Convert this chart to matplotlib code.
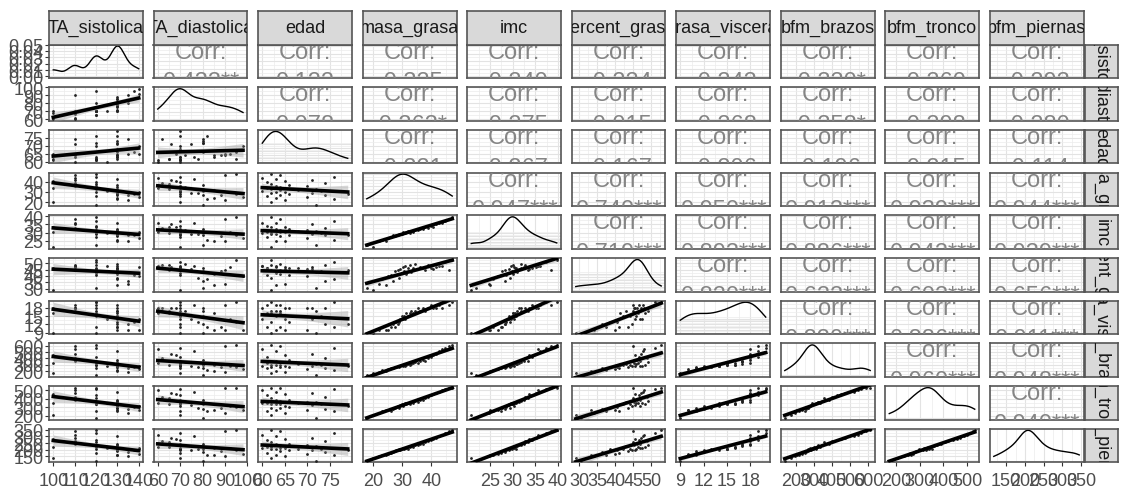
import numpy as np
import matplotlib.pyplot as plt

plt.rcParams['font.family'] = ['Liberation Sans', 'DejaVu Sans']

names = ['TA_sistolica', 'TA_diastolica', 'edad', 'masa_grasa', 'imc',
         'percent_grasa', 'grasa_visceral', 'bfm_brazos', 'bfm_tronco', 'bfm_piernas']

# valores estimados de la figura (36 sujetos)
ta_sistolica = [120, 100, 135, 130, 130, 140, 120, 135, 130, 138, 130, 130, 130, 120, 140, 130, 125, 130,
                130, 120, 130, 100, 130, 120, 110, 130, 120, 110, 120, 100, 110, 130, 110, 120, 110, 120]
ta_diastolica = [80, 70, 90, 82, 85, 98, 70, 80, 88, 95, 70, 78, 75, 70, 92, 80, 70, 85,
                 70, 65, 80, 60, 72, 70, 70, 80, 65, 62, 70, 68, 66, 76, 60, 70, 90, 95]
edad = [72, 62, 65, 76, 63, 70, 61, 74, 64, 66, 79, 62, 71, 63, 65, 73, 60, 64,
        68, 62, 72, 61, 64, 70, 63, 66, 62, 74, 61, 65, 71, 63, 60, 76, 64, 62]
masa_grasa = [17.7, 20.0, 21.8, 23.1, 24.3, 25.2, 26.0, 26.7, 27.3, 27.9, 28.4, 28.9, 29.3, 29.7, 30.1, 30.5, 30.9, 31.4,
              31.9, 32.5, 33.1, 33.8, 34.5, 35.3, 36.1, 37.0, 37.9, 38.8, 39.7, 40.6, 41.6, 42.6, 43.7, 44.8, 46.0, 47.2]
imc = [22.0, 20.9, 24.8, 25.6, 25.0, 26.8, 27.4, 28.4, 27.6, 28.6, 28.3, 29.4, 29.1, 29.3, 30.4, 29.8, 29.6, 30.1,
       30.7, 30.0, 31.0, 30.5, 31.8, 31.3, 32.4, 31.9, 33.3, 32.8, 34.2, 33.6, 35.2, 36.0, 35.6, 37.4, 38.5, 39.7]
percent_grasa = [30.5, 29.0, 34.0, 37.5, 33.2, 39.8, 41.0, 36.2, 43.5, 40.5, 44.6, 38.4, 45.5, 42.2, 46.8, 44.0, 47.5, 41.3,
                 45.9, 48.2, 43.1, 46.3, 49.0, 45.2, 47.0, 46.0, 44.8, 48.7, 46.5, 45.6, 47.2, 47.8, 48.0, 51.0, 45.0, 52.8]
grasa_visceral = [9, 9, 10, 11, 10, 10, 11, 12, 11, 13, 12, 13, 14, 15, 14, 15, 14, 16,
                  15, 16, 17, 16, 17, 18, 17, 18, 17, 18, 19, 18, 18, 19, 18, 20, 19, 20]
bfm_brazos = [135, 168, 190, 212, 205, 230, 246, 255, 262, 270, 278, 266, 284, 290, 276, 295, 288, 302,
              310, 298, 318, 330, 345, 322, 360, 380, 355, 400, 425, 450, 470, 520, 545, 560, 590, 612]
bfm_tronco = [171, 205, 232, 250, 262, 270, 258, 278, 285, 300, 312, 295, 325, 332, 318, 338, 345, 340,
              352, 335, 360, 348, 372, 365, 390, 380, 405, 420, 440, 455, 470, 485, 500, 512, 525, 532]
bfm_piernas = [117, 135, 150, 158, 162, 170, 178, 185, 192, 196, 200, 203, 198, 206, 210, 205, 212, 215,
               208, 220, 225, 218, 232, 238, 245, 240, 255, 262, 270, 282, 290, 300, 312, 325, 338, 345]

data = [ta_sistolica, ta_diastolica, edad, masa_grasa, imc, percent_grasa,
        grasa_visceral, bfm_brazos, bfm_tronco, bfm_piernas]

# correlaciones (triangulo superior, por filas)
corr_labels = [
    ['0.433**', '0.122', '-0.325', '-0.240', '-0.224', '-0.242', '-0.330*', '-0.260', '-0.293'],
    ['0.078', '-0.363*', '-0.275', '-0.015', '-0.268', '-0.358*', '-0.298', '-0.280'],
    ['-0.221', '-0.267', '-0.167', '-0.206', '-0.196', '-0.215', '-0.114'],
    ['0.947***', '0.740***', '0.950***', '0.912***', '0.939***', '0.944***'],
    ['0.719***', '0.893***', '0.886***', '0.942***', '0.939***'],
    ['0.820***', '0.633***', '0.603***', '0.656***'],
    ['0.830***', '0.886***', '0.911***'],
    ['0.960***', '0.948***'],
    ['0.940***'],
]

ticks = [[100, 110, 120, 130, 140], [60, 70, 80, 90, 100], [60, 65, 70, 75], [20, 30, 40],
         [25, 30, 35, 40], [30, 35, 40, 45, 50], [9, 12, 15, 18], [200, 300, 400, 500, 600],
         [200, 300, 400, 500], [150, 200, 250, 300, 350]]
dens_ticks = [0.00, 0.01, 0.02, 0.03, 0.04, 0.05]

W, H = 1121, 489
fig = plt.figure(figsize=(W / 100, H / 100), dpi=100)


def box(x0, y0, w, h):
    return [x0 / W, 1 - (y0 + h) / H, w / W, h / H]


def kde(x):
    x = np.asarray(x, float)
    n = len(x)
    q75, q25 = np.percentile(x, [75, 25])
    bw = 0.9 * min(x.std(ddof=1), (q75 - q25) / 1.34) * n ** -0.2
    g = np.linspace(x.min(), x.max(), 200)
    d = np.exp(-0.5 * ((g[:, None] - x[None, :]) / bw) ** 2).sum(1) / (n * bw * np.sqrt(2 * np.pi))
    return g, d


def smooth(x, y):
    x = np.asarray(x, float)
    y = np.asarray(y, float)
    b, a = np.polyfit(x, y, 1)
    g = np.linspace(x.min(), x.max(), 80)
    n = len(x)
    s = np.sqrt(((y - (a + b * x)) ** 2).sum() / (n - 2))
    se = s * np.sqrt(1 / n + (g - x.mean()) ** 2 / ((x - x.mean()) ** 2).sum())
    return g, a + b * g, 2.03 * se


def lims(v):
    v = np.asarray(v, float)
    r = v.max() - v.min()
    return v.min() - 0.05 * r, v.max() + 0.05 * r


def minors(t, lo, hi):
    step = t[1] - t[0]
    m = np.arange(t[0] - step / 2, t[-1] + step, step)
    return [x for x in m if lo <= x <= hi]


nv = len(names)
x0, px, pw = 49, 104.5, 94
y0, py, ph = 45.5, 42.7, 33.5
tick_col = '#4d4d4d'
border = '#555555'

for i in range(nv):
    for j in range(nv):
        ax = fig.add_axes(box(x0 + j * px, y0 + i * py, pw, ph))
        xl = lims(data[j])
        ax.set_xlim(xl)
        ax.set_xticks(ticks[j])
        ax.set_xticks(minors(ticks[j], *xl), minor=True)
        if i == j:
            g, d = kde(data[j])
            ax.plot(g, d, color='black', lw=1)
            yl = (-0.05 * d.max(), 1.05 * d.max())
            yt = [t for t in dens_ticks if t <= yl[1]]
        else:
            yl = lims(data[i])
            yt = ticks[i]
        ax.set_ylim(yl)
        ax.set_yticks(yt)
        ax.set_yticks(minors(yt, *yl) if len(yt) > 1 else [], minor=True)
        ax.grid(which='major', color='#e3e3e3', lw=0.8)
        ax.grid(which='minor', color='#ececec', lw=0.5)
        ax.set_axisbelow(True)

        if i > j:
            ax.scatter(data[j], data[i], s=4, color='#222222', lw=0, zorder=3)
            g, f, ci = smooth(data[j], data[i])
            ax.fill_between(g, f - ci, f + ci, color='#999999', alpha=0.4, lw=0, zorder=4)
            ax.plot(g, f, color='black', lw=2.6, zorder=5)
        elif i < j:
            lab = corr_labels[i][j - i - 1]
            ax.text(0.5, 0.61, 'Corr:', transform=ax.transAxes, ha='center', va='baseline',
                    fontsize=17, color='#858585', clip_on=True)
            ax.text(0.5, -0.31, lab, transform=ax.transAxes, ha='center', va='baseline',
                    fontsize=17, color='#858585', clip_on=True)

        for sp in ax.spines.values():
            sp.set_color(border)
            sp.set_linewidth(1.2)
        ax.tick_params(which='minor', length=0)
        ax.tick_params(which='major', length=3, width=0.8, color='#333333',
                       labelsize=13, labelcolor=tick_col, pad=1)
        ax.tick_params(axis='x', pad=4)
        if j != 0:
            ax.tick_params(axis='y', which='major', length=0, labelleft=False)
        if i != nv - 1:
            ax.tick_params(axis='x', which='major', length=0, labelbottom=False)
        else:
            ax.set_xticklabels([str(t) for t in ticks[j]])
        if j == 0:
            if i == 0:
                ax.set_yticklabels(['%.2f' % t for t in yt])
            else:
                ax.set_yticklabels([str(t) for t in yt])

# tiras superiores
for j in range(nv):
    sx = fig.add_axes(box(x0 + j * px, 12, pw, 33.5))
    sx.set_facecolor('#d9d9d9')
    sx.set_xticks([])
    sx.set_yticks([])
    for sp in sx.spines.values():
        sp.set_color(border)
        sp.set_linewidth(1.2)
    sx.text(0.5, 0.5, names[j], transform=sx.transAxes, ha='center', va='center',
            fontsize=13, color='#1a1a1a', clip_on=True)

# tiras laterales
for i in range(nv):
    sx = fig.add_axes(box(x0 + 9 * px + pw + 1, y0 + i * py, 33, ph))
    sx.set_facecolor('#d9d9d9')
    sx.set_xticks([])
    sx.set_yticks([])
    for sp in sx.spines.values():
        sp.set_color(border)
        sp.set_linewidth(1.2)
    sx.text(0.5, 0.5, names[i], transform=sx.transAxes, ha='center', va='center',
            rotation=-90, fontsize=13, color='#1a1a1a', clip_on=True)

fig.savefig('out.png', dpi=100)
